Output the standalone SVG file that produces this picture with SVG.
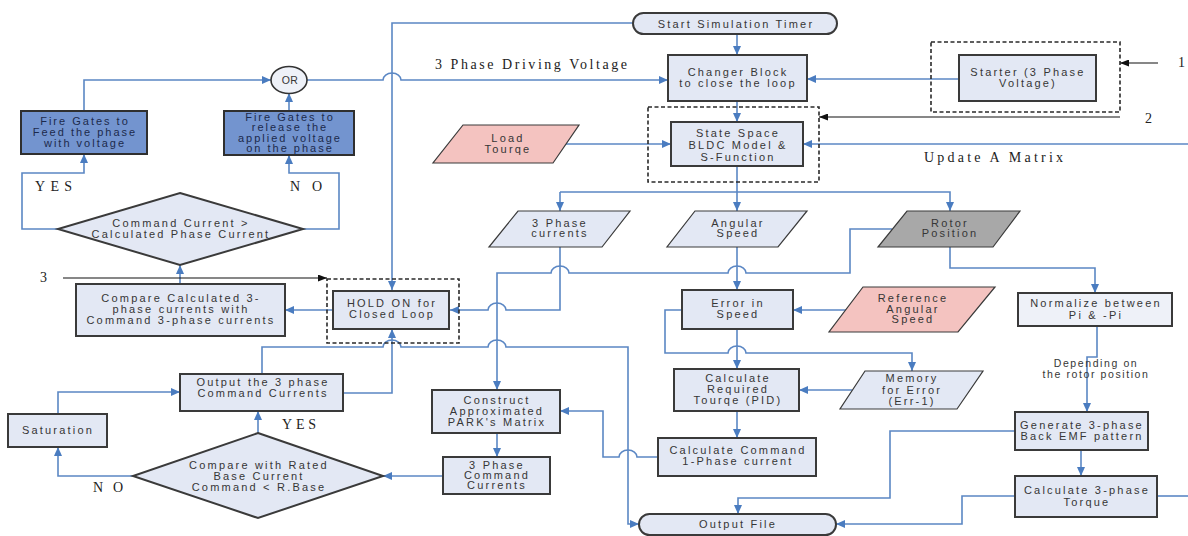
<svg xmlns="http://www.w3.org/2000/svg" width="1188" height="536" viewBox="0 0 1188 536">
<style>
.box{fill:#e3e8f4;stroke:#3a3a3a;stroke-width:2}
.dark{fill:#7394cf;stroke:#2f2f2f;stroke-width:2}
.light{fill:#eef1f8;stroke:#3a3a3a;stroke-width:2}
.pink{fill:#f4c3c0;stroke:#3a3a3a;stroke-width:1.2}
.gray{fill:#a8a8a8;stroke:#3a3a3a;stroke-width:1.2}
.para{fill:#e3e8f4;stroke:#3a3a3a;stroke-width:1.2}
.dash{fill:none;stroke:#2a2a2a;stroke-width:1.6;stroke-dasharray:4 2.5}
.t{font-family:"Liberation Sans",Arial,sans-serif;font-size:11px;letter-spacing:2.2px;fill:#363636;text-anchor:middle}
.tw{font-family:"Liberation Sans",Arial,sans-serif;font-size:11px;letter-spacing:2px;fill:#1c2a4c;text-anchor:middle}
.s{font-family:"Liberation Serif","Times New Roman",serif;font-size:14px;fill:#222}
.c{fill:none;stroke:#5b87c4;stroke-width:1.6}
.k{fill:none;stroke:#111;stroke-width:1.2}
</style>
<defs>
<marker id="a" markerUnits="userSpaceOnUse" markerWidth="9" markerHeight="8" refX="9" refY="4" orient="auto"><path d="M0,0 L9,4 L0,8 z" fill="#4a7cc0"/></marker>
<marker id="b" markerUnits="userSpaceOnUse" markerWidth="9" markerHeight="7" refX="9" refY="3.5" orient="auto"><path d="M0,0 L9,3.5 L0,7 z" fill="#111"/></marker>
</defs>
<rect width="1188" height="536" fill="#ffffff"/>

<g id="connectors">
<path class="c" marker-end="url(#a)" d="M633,23 H392 V290"/>
<path class="c" marker-end="url(#a)" d="M737,34 V55"/>
<path class="c" marker-end="url(#a)" d="M737,101 V122"/>
<path class="c" marker-end="url(#a)" d="M959,79 H807"/>
<path class="c" marker-end="url(#a)" d="M566,144 H671"/>
<path class="c" marker-end="url(#a)" d="M1188,144 H803"/>
<path class="c" marker-end="url(#a)" d="M307,80 H383 a9,7 0 0 1 18,0 H668"/>
<path class="c" marker-end="url(#a)" d="M84,111 V80 H271"/>
<path class="c" marker-end="url(#a)" d="M289,111 V93"/>
<path class="c" marker-end="url(#a)" d="M58,229 H22 V173 H84 V154"/>
<path class="c" marker-end="url(#a)" d="M303,229 H339 V173 H289 V155"/>
<path class="c" marker-end="url(#a)" d="M180,284 V265"/>
<path class="c" marker-end="url(#a)" d="M333,310 H285"/>
<path class="c" marker-end="url(#a)" d="M737,166 V211"/>
<path class="c" marker-end="url(#a)" d="M560,192 V211"/>
<path class="c" marker-end="url(#a)" d="M560,192 H950 V211"/>
<path class="c" marker-end="url(#a)" d="M560,247 V310 H506 a9,7 0 0 0 -18,0 H450"/>
<path class="c" marker-end="url(#a)" d="M892,229 H850 V273 H746 a9,7 0 0 0 -18,0 H569 a9,7 0 0 0 -18,0 H497 V390"/>
<path class="c" marker-end="url(#a)" d="M737,247 V290"/>
<path class="c" marker-end="url(#a)" d="M950,247 V268 H1095 V293"/>
<path class="c" marker-end="url(#a)" d="M846,310 H793"/>
<path class="c" marker-end="url(#a)" d="M682,310 H665 V353 H728 a9,7 0 0 1 18,0 H912 V371"/>
<path class="c" marker-end="url(#a)" d="M737,329 V369"/>
<path class="c" marker-end="url(#a)" d="M852,390 H799"/>
<path class="c" marker-end="url(#a)" d="M737,411 V438"/>
<path class="c" marker-end="url(#a)" d="M658,457 H637 a9,7 0 0 0 -18,0 H603 V411 H560"/>
<path class="c" marker-end="url(#a)" d="M497,433 V457"/>
<path class="c" marker-end="url(#a)" d="M443,476 H383"/>
<path class="c" marker-end="url(#a)" d="M258,433 V411"/>
<path class="c" marker-end="url(#a)" d="M133,476 H58 V447"/>
<path class="c" marker-end="url(#a)" d="M58,414 V392 H180"/>
<path class="c" marker-end="url(#a)" d="M343,393 H392 V329"/>
<path class="c" marker-end="url(#a)" d="M262,374 V347 H383 a9,7 0 0 1 18,0 H488 a9,7 0 0 1 18,0 H628 V524 H639"/>
<path class="c" marker-end="url(#a)" d="M1015,431 H890 V498 H738 V514"/>
<path class="c" marker-end="url(#a)" d="M1015,496 H962 V524 H836"/>
<path class="c" d="M1157,496 H1188"/>
<path class="c" marker-end="url(#a)" d="M1097,326 V357 H1087 V412"/>
<path class="c" marker-end="url(#a)" d="M1081,450 V476"/>
<path class="k" marker-end="url(#b)" d="M63,278 H327"/>
<path class="k" marker-end="url(#b)" d="M1158,63 H1120"/>
<path class="k" marker-end="url(#b)" d="M1120,117 H819"/>
</g>

<g id="dashed-groups">
<rect class="dash" x="931" y="42" width="189" height="70"/>
<rect class="dash" x="648" y="107" width="171" height="75"/>
<rect class="dash" x="327" y="279" width="132" height="64"/>
</g>

<g id="start"><rect class="box" x="633" y="13" width="204" height="21" rx="10.5"/><text class="t" x="736" y="27.5">Start Simulation Timer</text></g>
<g id="changer"><rect class="box" x="668" y="55" width="139" height="46"/><text class="t" x="738" y="75.5">Changer Block</text><text class="t" x="738" y="87">to close the loop</text></g>
<g id="starter"><rect class="box" x="959" y="55" width="137" height="46"/><text class="t" x="1028" y="75.5">Starter (3 Phase</text><text class="t" x="1028" y="87">Voltage)</text></g>
<g id="statespace"><rect class="box" x="671" y="122" width="132" height="44"/><text class="t" x="738" y="137">State Space</text><text class="t" x="738" y="149">BLDC Model &amp;</text><text class="t" x="738" y="161">S-Function</text></g>
<g id="load"><polygon class="pink" points="463,125 579,125 553,163 433,163"/><text class="t" x="508" y="142">Load</text><text class="t" x="508" y="153">Tourqe</text></g>
<g id="or"><ellipse cx="289" cy="80" rx="18" ry="13.5" fill="#eef1f8" stroke="#333" stroke-width="1.6"/><text class="t" x="290" y="84" style="letter-spacing:0.5px;font-size:10.5px">OR</text></g>
<g id="firefeed"><rect class="dark" x="21" y="111" width="126" height="43"/><text class="tw" x="85" y="125">Fire Gates to</text><text class="tw" x="85" y="136">Feed the phase</text><text class="tw" x="85" y="147">with voltage</text></g>
<g id="firerelease"><rect class="dark" x="224" y="111" width="130" height="44"/><text class="tw" x="290" y="120.5">Fire Gates to</text><text class="tw" x="290" y="131">release the</text><text class="tw" x="290" y="141.5">applied voltage</text><text class="tw" x="290" y="152">on the phase</text></g>
<g id="decision1"><polygon class="box" points="180,193 303,229 180,265 58,229"/><text class="t" x="181" y="227">Command Current &gt;</text><text class="t" x="181" y="238">Calculated Phase Current</text></g>
<g id="compare"><rect class="box" x="76" y="284" width="209" height="52"/><text class="t" x="181" y="302">Compare Calculated 3-</text><text class="t" x="181" y="313">phase currents with</text><text class="t" x="181" y="324">Command 3-phase currents</text></g>
<g id="holdon"><rect class="box" x="333" y="291" width="116" height="38"/><text class="t" x="392" y="307">HOLD ON for</text><text class="t" x="392" y="318">Closed Loop</text></g>
<g id="phasecurrents"><polygon class="para" points="518,211 630,211 602,247 489,247"/><text class="t" x="560" y="227">3 Phase</text><text class="t" x="560" y="237">currents</text></g>
<g id="angular"><polygon class="para" points="695,211 807,211 778,247 667,247"/><text class="t" x="738" y="227">Angular</text><text class="t" x="738" y="237">Speed</text></g>
<g id="rotor"><polygon class="gray" points="907,211 1020,211 993,247 878,247"/><text class="t" x="950" y="227">Rotor</text><text class="t" x="950" y="237">Position</text></g>
<g id="error"><rect class="box" x="682" y="290" width="111" height="39"/><text class="t" x="738" y="307">Error in</text><text class="t" x="738" y="318">Speed</text></g>
<g id="reference"><polygon class="pink" points="863,287 995,287 958,332 829,332"/><text class="t" x="913" y="302">Reference</text><text class="t" x="913" y="313">Angular</text><text class="t" x="913" y="323">Speed</text></g>
<g id="normalize"><rect class="light" x="1018" y="293" width="154" height="33"/><text class="t" x="1096" y="307">Normalize between</text><text class="t" x="1096" y="319">Pi &amp; -Pi</text></g>
<g id="depending"><text class="t" x="1096" y="367" style="font-size:10.5px;letter-spacing:1.6px">Depending on</text><text class="t" x="1096" y="378" style="font-size:10.5px;letter-spacing:1.6px">the rotor position</text></g>
<g id="outputcmd"><rect class="box" x="180" y="374" width="163" height="37"/><text class="t" x="263" y="386">Output the 3 phase</text><text class="t" x="263" y="397">Command Currents</text></g>
<g id="saturation"><rect class="box" x="8" y="414" width="99" height="33"/><text class="t" x="58" y="434">Saturation</text></g>
<g id="decision2"><polygon class="box" points="258,433 383,476 258,518 133,476"/><text class="t" x="259" y="469">Compare with Rated</text><text class="t" x="259" y="480">Base Current</text><text class="t" x="259" y="491">Command &lt; R.Base</text></g>
<g id="construct"><rect class="box" x="432" y="390" width="128" height="43"/><text class="t" x="497" y="404">Construct</text><text class="t" x="497" y="415">Approximated</text><text class="t" x="497" y="426">PARK's Matrix</text></g>
<g id="cmd3"><rect class="box" x="443" y="457" width="107" height="37"/><text class="t" x="497" y="469">3 Phase</text><text class="t" x="497" y="479">Command</text><text class="t" x="497" y="489">Currents</text></g>
<g id="pid"><rect class="box" x="674" y="369" width="125" height="42"/><text class="t" x="738" y="382">Calculate</text><text class="t" x="738" y="393">Required</text><text class="t" x="738" y="404">Tourqe (PID)</text></g>
<g id="memory"><polygon class="para" points="865,371 983,371 957,409 840,409"/><text class="t" x="912" y="382">Memory</text><text class="t" x="912" y="393.5">for Error</text><text class="t" x="912" y="405">(Err-1)</text></g>
<g id="cmd1"><rect class="box" x="658" y="438" width="158" height="38"/><text class="t" x="738" y="454">Calculate Command</text><text class="t" x="738" y="465">1-Phase current</text></g>
<g id="generate"><rect class="box" x="1015" y="412" width="133" height="38"/><text class="t" x="1082" y="429">Generate 3-phase</text><text class="t" x="1082" y="440">Back EMF pattern</text></g>
<g id="torque"><rect class="box" x="1015" y="476" width="142" height="41"/><text class="t" x="1087" y="494">Calculate 3-phase</text><text class="t" x="1087" y="506">Torque</text></g>
<g id="outputfile"><rect class="box" x="639" y="514" width="197" height="21" rx="10.5"/><text class="t" x="738" y="528">Output File</text></g>

<g id="labels">
<text class="s" x="435" y="69" textLength="192" lengthAdjust="spacing">3 Phase Driving Voltage</text>
<text class="s" x="924" y="162" textLength="139" lengthAdjust="spacing">Update A Matrix</text>
<text class="s" x="35" y="191" textLength="37" lengthAdjust="spacing">YES</text>
<text class="s" x="290" y="191" textLength="32" lengthAdjust="spacing">NO</text>
<text class="s" x="40" y="282">3</text>
<text class="s" x="282" y="429" textLength="34" lengthAdjust="spacing">YES</text>
<text class="s" x="93" y="492" textLength="30" lengthAdjust="spacing">NO</text>
<text class="s" x="1178" y="67">1</text>
<text class="s" x="1145" y="123">2</text>
</g>
</svg>
